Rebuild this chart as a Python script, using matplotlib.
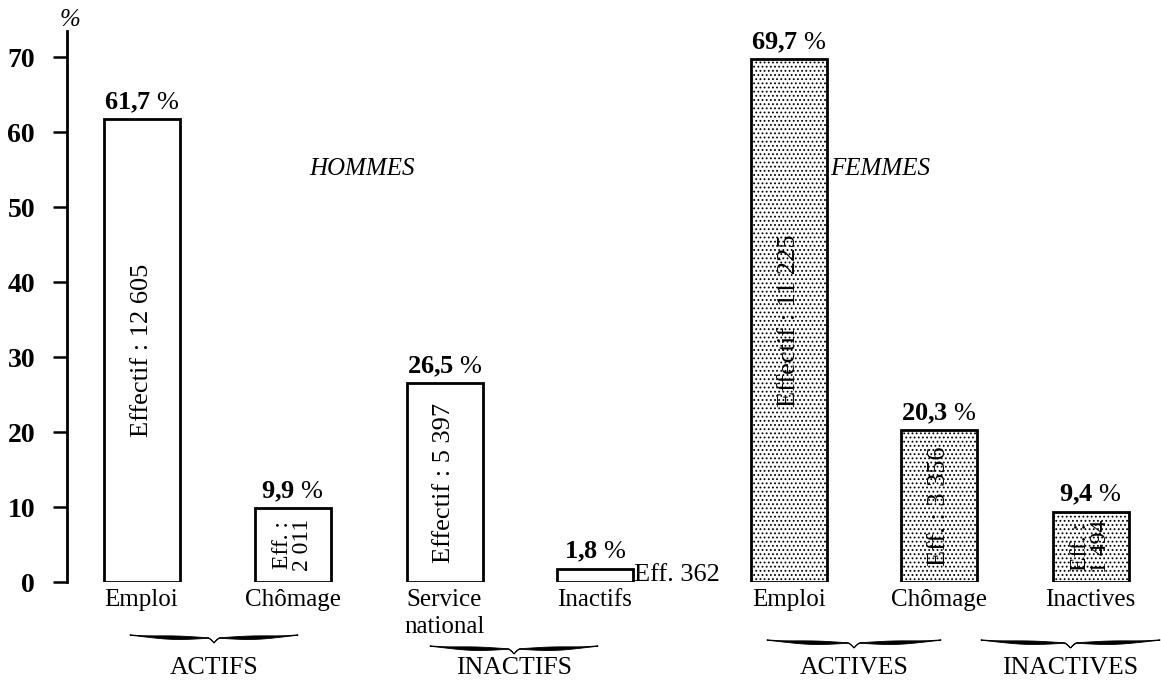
import numpy as np
import matplotlib
matplotlib.use("Agg")
import matplotlib.pyplot as plt
from matplotlib.patches import Polygon

plt.rcParams['font.family'] = ['Liberation Serif', 'DejaVu Serif']
plt.rcParams['mathtext.fontset'] = 'custom'
plt.rcParams['mathtext.rm'] = 'Liberation Serif'
plt.rcParams['mathtext.bf'] = 'Liberation Serif:bold'
plt.rcParams['hatch.linewidth'] = 0.8

# data
categories = ["Emploi", "Chômage", "Service\nnational", "Inactifs",
              "Emploi", "Chômage", "Inactives"]
percent = [61.7, 9.9, 26.5, 1.8, 69.7, 20.3, 9.4]
pct_labels = ["61,7", "9,9", "26,5", "1,8", "69,7", "20,3", "9,4"]
eff_labels = ["Effectif : 12 605", "Eff. :\n2 011", "Effectif : 5 397", "Eff. 362",
              "Effectif : 11 225", "Eff. : 3 356", "Eff. :\n1 494"]
female = [False, False, False, False, True, True, True]
groups = ["ACTIFS", "INACTIFS", "ACTIVES", "INACTIVES"]
yticks = [0, 10, 20, 30, 40, 50, 60, 70]

# layout (pixel-like x positions)
xpos = [141.5, 292.5, 444.5, 595, 789, 939, 1090.5]
width = 76
brace_spans = [(130, 298, 638), (430, 598, 649), (767, 941, 643), (981, 1160, 643)]

W, H = 1161, 682
fig = plt.figure(figsize=(W / 100, H / 100), dpi=100)
ax = fig.add_axes([67 / W, 100 / H, (W - 67) / W, 551 / H])
ax.set_xlim(67, W)
ax.set_ylim(0, 73.5)

for x, h, fem in zip(xpos, percent, female):
    ax.bar(x, h, width=width, facecolor="white", edgecolor="black",
           linewidth=2, hatch="...." if fem else None)

for x, h, lab in zip(xpos, percent, pct_labels):
    ax.annotate(r"$\mathbf{%s}$ %%" % lab.replace(",", "{,}"), (x, h),
                xytext=(0, 3), textcoords="offset points",
                ha="center", va="bottom", fontsize=19)

for x, h, lab in zip(xpos, percent, eff_labels):
    if lab.startswith("Eff. 3"):
        ax.text(x + width / 2 + 1, h / 2, lab, ha="left", va="center", fontsize=19)
    elif "\n" in lab:
        ax.text(x, h / 2, lab, rotation=90, ha="center", va="center",
                fontsize=17, linespacing=0.9)
    else:
        ax.text(x, h / 2, lab, rotation=90, ha="center", va="center", fontsize=19)

for s in ["top", "right", "bottom"]:
    ax.spines[s].set_visible(False)
ax.spines["left"].set_linewidth(2)
ax.set_yticks(yticks)
ax.set_yticklabels([str(v) for v in yticks], fontsize=20, fontweight="bold")
ax.tick_params(axis="y", length=10, width=1.8, pad=13)
ax.set_xticks(xpos)
ax.set_xticklabels(categories, fontsize=18)
ax.tick_params(axis="x", length=0, pad=5)
ax.get_xticklabels()[2].set_linespacing(1.3)

# overlay in pixel coords for annotations
ov = fig.add_axes([0, 0, 1, 1], facecolor="none")
ov.set_xlim(0, W)
ov.set_ylim(H, 0)
ov.axis("off")

ov.text(70, 20, "%", ha="center", va="center", fontsize=18, style="italic")
ov.text(362, 169, "HOMMES", ha="center", va="center", fontsize=18, style="italic")
ov.text(880, 169, "FEMMES", ha="center", va="center", fontsize=18, style="italic")


def brace(x0, x1, y):
    t = np.linspace(0, 1, 400)
    xs = x0 + (x1 - x0) * t
    d = np.abs(t - 0.5) * 2
    yc = y - 3 * d ** 3 + 5 * np.clip(1 - d / 0.07, 0, None) ** 1.5
    w = 0.5 + 3.0 * np.sin(np.pi * np.clip(d, 0, 1) ** 0.9) ** 2 * (d > 0.03)
    top = np.column_stack([xs, yc - w / 2])
    bot = np.column_stack([xs[::-1], (yc + w / 2)[::-1]])
    ov.add_patch(Polygon(np.vstack([top, bot]), closed=True,
                         facecolor="black", edgecolor="black", linewidth=0.6))


for (x0, x1, y), g in zip(brace_spans, groups):
    brace(x0, x1, y)
    ov.text((x0 + x1) / 2, 668, g, ha="center", va="center", fontsize=18.5)

fig.savefig("out.png", dpi=100)
